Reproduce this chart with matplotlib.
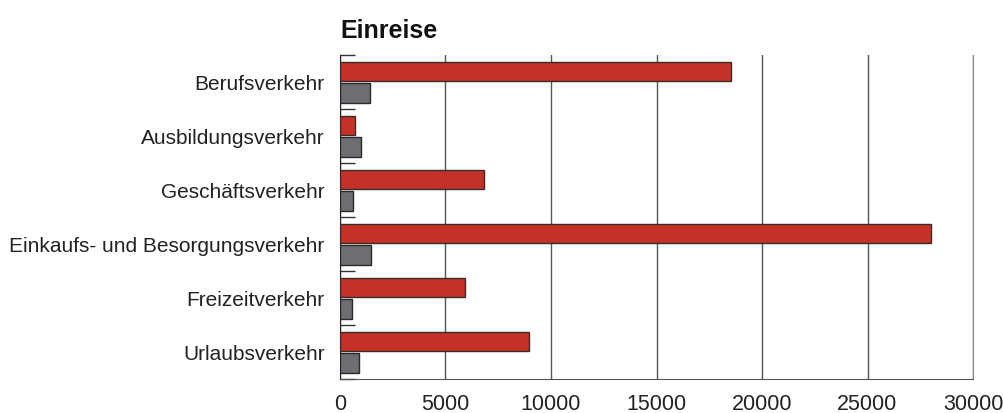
import numpy as np
import matplotlib
matplotlib.use('Agg')
import matplotlib.pyplot as plt
from matplotlib.ticker import FixedLocator

categories = ['Berufsverkehr', 'Ausbildungsverkehr', 'Geschäftsverkehr',
              'Einkaufs- und Besorgungsverkehr', 'Freizeitverkehr', 'Urlaubsverkehr']
einreise_rot = [18550, 710, 6820, 28000, 5920, 8940]
einreise_grau = [1420, 980, 630, 1470, 580, 880]
x_ticks = [0, 5000, 10000, 15000, 20000, 25000, 30000]

plt.rcParams['font.family'] = ['Liberation Sans', 'DejaVu Sans']

fig = plt.figure(figsize=(10.04, 4.14), dpi=100)
ax = fig.add_axes([340 / 1004, 1 - 380 / 414, 633 / 1004, 324 / 414])

y = np.arange(len(categories))
ax.barh(y - 0.195, einreise_rot, height=0.36, color='#c43127',
        edgecolor='#3a2a2a', linewidth=1.0, zorder=3)
ax.barh(y + 0.2, einreise_grau, height=0.36, color='#6d6e72',
        edgecolor='#2a2a2a', linewidth=1.0, zorder=3)

ax.set_xlim(0, 30000)
ax.set_ylim(len(categories) - 0.5, -0.5)

ax.set_xticks(x_ticks)
ax.set_xticklabels([str(v) for v in x_ticks], fontsize=15.5, color='#222222')
ax.tick_params(axis='x', length=0, pad=10)
ax.grid(axis='x', color='#555555', linewidth=1.0, zorder=0)

ax.set_yticks(y)
ax.set_yticklabels(categories, fontsize=15, color='#222222')
ax.tick_params(axis='y', which='major', length=0, pad=11)
ax.yaxis.set_minor_locator(FixedLocator(np.arange(-0.5, len(categories), 1.0)))
ax.tick_params(axis='y', which='minor', direction='in', length=11, width=1.0,
               color='#333333')

ax.spines['top'].set_visible(False)
ax.spines['left'].set_color('#222222')
ax.spines['bottom'].set_color('#555555')
ax.spines['right'].set_color('#888888')

fig.text(340 / 1004, 1 - 31 / 414, 'Einreise', fontsize=18, fontweight='bold',
         color='#111111', va='center', ha='left')

fig.savefig('out.png', dpi=100)
